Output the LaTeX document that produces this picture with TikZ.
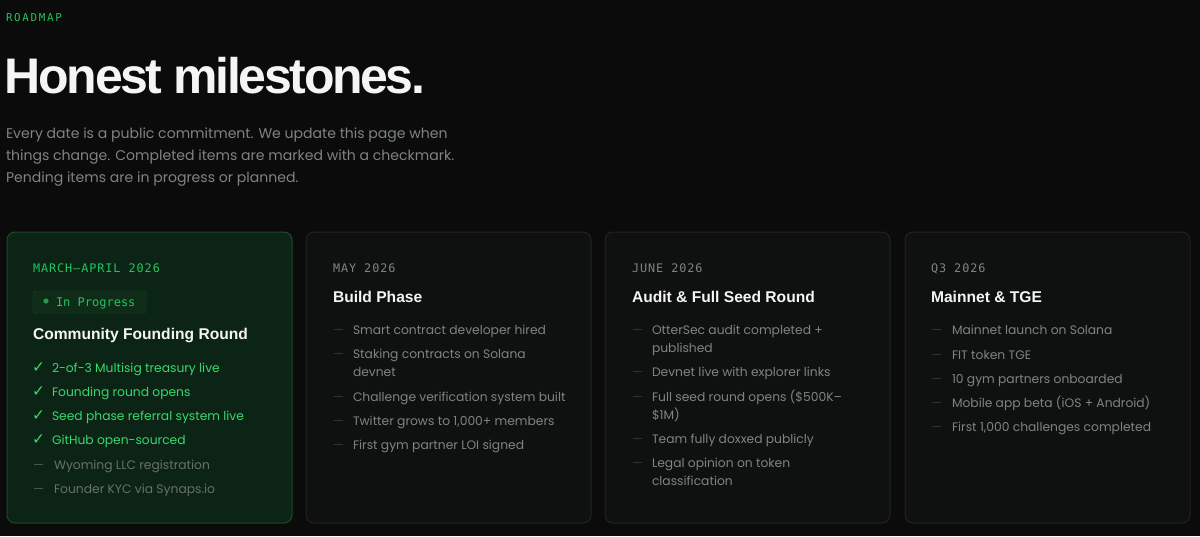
\documentclass[tikz,border=0pt]{standalone}
\usepackage{fontspec}
\setmainfont{Poppins}
\newfontfamily\bodyf{Poppins}
\newfontfamily\headf{Liberation Sans}
\newfontfamily\monof{DejaVu Sans Mono}
\newfontfamily\monosp{DejaVu Sans Mono}[LetterSpace=8]
\newfontfamily\monowide{DejaVu Sans Mono}[LetterSpace=16]
\newfontfamily\titlef{Liberation Sans}[LetterSpace=-4.8]
\newfontfamily\symf{DejaVu Sans}
\definecolor{bg}{HTML}{0A0B0A}
\definecolor{cardfill}{HTML}{0E1110}
\definecolor{cardline}{HTML}{1F2422}
\definecolor{gcard}{HTML}{0C2415}
\definecolor{gline}{HTML}{1D4A2B}
\definecolor{badgefill}{HTML}{0F2C19}
\definecolor{dotg}{HTML}{1F9A4E}
\definecolor{green}{HTML}{22C55E}
\definecolor{itemgreen}{HTML}{38D86C}
\definecolor{graytext}{HTML}{7E8480}
\definecolor{dimtext}{HTML}{687069}
\definecolor{dash}{HTML}{2F3532}
\definecolor{dashg}{HTML}{4D5A52}
\definecolor{white}{HTML}{F5F5F5}
\begin{document}
\begin{tikzpicture}[x=1pt,y=-1pt,
  card/.style={draw=cardline, fill=cardfill, rounded corners=8pt, line width=1pt},
  gcardst/.style={draw=gline, fill=gcard, rounded corners=8pt, line width=1pt},
  txt/.style={anchor=base west, inner sep=0pt, outer sep=0pt},
  datest/.style={txt, font=\monosp\fontsize{11.8}{14}\selectfont},
  headst/.style={txt, text=white, font=\headf\bfseries\fontsize{15.6}{19}\selectfont},
  itemst/.style={txt, text=graytext, align=left, font=\bodyf\fontsize{12.3}{18}\selectfont},
  gitemst/.style={txt, text=itemgreen, font=\bodyf\fontsize{12.3}{18}\selectfont},
  markst/.style={txt, font=\bodyf\fontsize{12.3}{18}\selectfont},
]
\fill[bg] (0,0) rectangle (1200,536);
\useasboundingbox (0,0) rectangle (1200,536);

% header
\node[txt, text=green, font=\monowide\fontsize{10.8}{14}\selectfont] (eyebrow) at (6,21) {ROADMAP};
\node[txt, text=white, font=\titlef\bfseries\fontsize{50}{56}\selectfont] (title) at (5,93) {Honest milestones.};
\node[txt, text=graytext, align=left, font=\bodyf\fontsize{14.05}{22}\selectfont] (intro) at (6,182)
 {Every date is a public commitment. We update this page when\\things change. Completed items are marked with a checkmark.\\Pending items are in progress or planned.};

% cards
\draw[gcardst] (7,232) rectangle (292,523);
\draw[card] (306,232) rectangle (591,523);
\draw[card] (605,232) rectangle (890,523);
\draw[card] (905,232) rectangle (1190,523);

% card 1
\node[datest, text=green] (d1) at (33,272.5) {MARCH–APRIL 2026};
\draw[draw=gline, fill=badgefill, rounded corners=3pt] (33,291) rectangle (146,313);
\fill[dotg] (46,301) circle (2.6pt);
\node[txt, text=green, font=\monof\fontsize{12}{15}\selectfont] (badge) at (56,306) {In Progress};
\node[headst] (h1) at (33,339) {Community Founding Round};
\foreach \y/\t [count=\i] in {372/2-of-3 Multisig treasury live, 396/Founding round opens, 420/Seed phase referral system live, 444/GitHub open-sourced}{
  \node[markst, text=itemgreen, font=\symf\bfseries\fontsize{15.5}{16}\selectfont] (c1m\i) at (32,\y) {✓};
  \node[gitemst] (c1i\i) at (52,\y) {\t};
}
\node[markst, text=dashg] (c1m5) at (33,469) {—};
\node[itemst, text=dimtext] (c1i5) at (54,469) {Wyoming LLC registration};
\node[markst, text=dashg] (c1m6) at (33,493) {—};
\node[itemst, text=dimtext] (c1i6) at (54,493) {Founder KYC via Synaps.io};

% card 2 (multi-line items are placed by the baseline of their last line)
\node[datest, text=graytext] (d2) at (333,272.5) {MAY 2026};
\node[headst] (h2) at (333,302) {Build Phase};
\node[markst, text=dash] (c2m1) at (333,334) {—};
\node[itemst] (c2i1) at (353,334) {Smart contract developer hired};
\node[markst, text=dash] (c2m2) at (333,358) {—};
\node[itemst] (c2i2) at (353,376) {Staking contracts on Solana\\devnet};
\node[markst, text=dash] (c2m3) at (333,401) {—};
\node[itemst] (c2i3) at (353,401) {Challenge verification system built};
\node[markst, text=dash] (c2m4) at (333,425) {—};
\node[itemst] (c2i4) at (353,425) {Twitter grows to 1,000+ members};
\node[markst, text=dash] (c2m5) at (333,449) {—};
\node[itemst] (c2i5) at (353,449) {First gym partner LOI signed};

% card 3
\node[datest, text=graytext] (d3) at (632,272.5) {JUNE 2026};
\node[headst] (h3) at (632,302) {Audit \& Full Seed Round};
\node[markst, text=dash] (c3m1) at (632,334) {—};
\node[itemst] (c3i1) at (652,352) {OtterSec audit completed +\\published};
\node[markst, text=dash] (c3m2) at (632,376) {—};
\node[itemst] (c3i2) at (652,376) {Devnet live with explorer links};
\node[markst, text=dash] (c3m3) at (632,401) {—};
\node[itemst] (c3i3) at (652,419) {Full seed round opens (\$500K–\\\$1M)};
\node[markst, text=dash] (c3m4) at (632,443) {—};
\node[itemst] (c3i4) at (652,443) {Team fully doxxed publicly};
\node[markst, text=dash] (c3m5) at (632,467) {—};
\node[itemst] (c3i5) at (652,485) {Legal opinion on token\\classification};

% card 4
\node[datest, text=graytext] (d4) at (931,272.5) {Q3 2026};
\node[headst] (h4) at (931,302) {Mainnet \& TGE};
\foreach \y/\t [count=\i] in {334/Mainnet launch on Solana, 359/FIT token TGE, 383/10 gym partners onboarded, 407/Mobile app beta (iOS + Android), 431/{First 1,000 challenges completed}}{
  \node[markst, text=dash] (c4m\i) at (931,\y) {—};
  \node[itemst] (c4i\i) at (952,\y) {\t};
}
\end{tikzpicture}
\end{document}
